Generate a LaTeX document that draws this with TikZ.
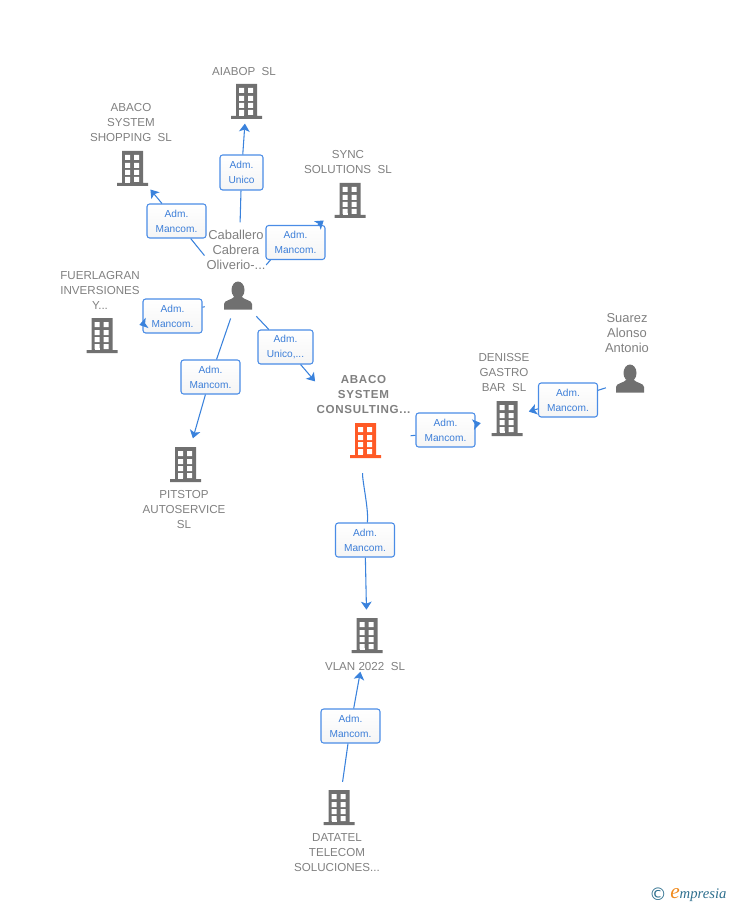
\documentclass[tikz,border=0pt]{standalone}
\usepackage{fontspec}
\setmainfont{Liberation Sans}
\newfontfamily\mainbold[LetterSpace=6]{Liberation Sans Bold}
\newfontfamily\logofont{Liberation Serif Italic}
\newfontfamily\signfont{DejaVu Sans}
\usetikzlibrary{arrows.meta}
\definecolor{wireblue}{HTML}{3A82DC}
\definecolor{labblue}{HTML}{4A8CE6}
\definecolor{labtext}{HTML}{3C7ED8}
\definecolor{nametext}{HTML}{808080}
\definecolor{iconkey}{HTML}{707070}
\definecolor{iconmain}{HTML}{FF5A26}
\definecolor{logoteal}{HTML}{2E6F8E}
\definecolor{logoorange}{HTML}{F08A1D}
\tikzset{
	wire/.style={line width=.8pt,color=wireblue},
	lab/.style={draw=labblue,line width=.8pt,rounded corners=2pt,top color=white,bottom color=black!4,
		text=labtext,font=\fontsize{7.6}{11.25}\selectfont,align=center,inner sep=0pt,
		minimum width=44.25pt,minimum height=25.5pt},
	nametag/.style={text=nametext,font=\fontsize{8.7}{11.25}\selectfont,align=center,inner sep=0pt},
	nameperson/.style={nametag,font=\fontsize{9.7}{11.25}\selectfont},
	bldg/.style={minimum width=24pt,minimum height=27pt,inner sep=0pt,path picture={
		\begin{scope}[shift={(path picture bounding box.center)}]
			\fill[#1] (-10.5,-17) rectangle (10.5,16) (-15.5,15) rectangle (15.5,18);
			\foreach \yy/\hh in {-13/5,-5/5,2/5,9/5}{
				\fill[white] (-7.5,\yy) rectangle +(5,\hh) (1.5,\yy) rectangle +(5,\hh);
			}
			\fill[white] (-7.5,13) rectangle (-2.5,15);
		\end{scope}}},
	bldg/.default=iconkey,
	person/.style={minimum width=24pt,minimum height=24pt,inner sep=0pt,path picture={
		\begin{scope}[shift={(path picture bounding box.center)}]
			\fill[iconkey] (0,-7) ellipse (6.5 and 8.5);
			\fill[iconkey] (-14,12.5) -- (-14,7) .. controls (-14,3) and (-6,3) .. (-4,0) -- (4,0)
				.. controls (6,3) and (14,3) .. (14,7) -- (14,12.5) -- cycle;
		\end{scope}}}
}
\begin{document}
\begin{tikzpicture}[x=.75pt,y=-.75pt,>={Stealth[length=6pt,width=8pt,inset=1.5pt]}]
	\useasboundingbox (0,0) rectangle (728,905);
	% icons
	\node[bldg] (aiabop) at (246.5,101) {};
	\node[bldg] (shopping) at (132.5,168) {};
	\node[bldg] (sync) at (350,200) {};
	\node[bldg] (fuerlagran) at (102,335) {};
	\node[bldg] (pitstop) at (185.5,464) {};
	\node[bldg=iconmain] (abaco) at (365.5,440) {};
	\node[bldg] (denisse) at (507,418) {};
	\node[bldg] (vlan) at (367,635) {};
	\node[bldg] (datatel) at (339,807) {};
	\node[person] (caballero) at (238,297) {};
	\node[person] (suarez) at (630,380) {};
	% names
	\node[nametag] (aiabopname) at (244,72) {AIABOP\ \ SL};
	\node[nametag] (shoppingname) at (131,123) {ABACO\\SYSTEM\\SHOPPING\ \ SL};
	\node[nametag] (syncname) at (348,162.5) {SYNC\\SOLUTIONS\ \ SL};
	\node[nameperson] (caballeroname) at (236,250) {Caballero\\Cabrera\\Oliverio-...};
	\node[nametag] (fuerlagranname) at (100,290) {FUERLAGRAN\\INVERSIONES\\Y...};
	\node[nametag] (denissename) at (504,373) {DENISSE\\GASTRO\\BAR\ \ SL};
	\node[nameperson] (suarezname) at (627,333) {Suarez\\Alonso\\Antonio};
	\node[nametag] (pitstopname) at (184,510) {PITSTOP\\AUTOSERVICE\\SL};
	\node[nametag,font=\fontsize{8.7}{11.25}\mainbold] (abaconame) at (363.5,395) {ABACO\\SYSTEM\\CONSULTING...};
	\node[nametag] (vlanname) at (365,666) {VLAN 2022\ \ SL};
	\node[nametag] (datatelname) at (337,853) {DATATEL\\TELECOM\\SOLUCIONES...};
	% labels
	\node[lab,minimum width=32.25pt,minimum height=26.25pt] (labaiabop) at (241.5,172.5) {Adm.\\Unico};
	\node[lab] (labshopping) at (176.5,221) {Adm.\\Mancom.};
	\node[lab] (labsync) at (295.5,242.5) {Adm.\\Mancom.};
	\node[lab] (labfuerlagran) at (172.5,316) {Adm.\\Mancom.};
	\node[lab] (labpitstop) at (210.5,377) {Adm.\\Mancom.};
	\node[lab,minimum width=41.25pt] (lababaco) at (285.5,347) {Adm.\\Unico,...};
	\node[lab] (labdenisse) at (445.5,430) {Adm.\\Mancom.};
	\node[lab] (labsuarez) at (568,400) {Adm.\\Mancom.};
	\node[lab] (labvlan) at (365,540) {Adm.\\Mancom.};
	\node[lab] (labdatatel) at (350.5,726) {Adm.\\Mancom.};
	% connectors
	\draw[wire,shorten <=56pt] (caballero.center) -- (labaiabop);
	\draw[wire,->,shorten >=17pt] (labaiabop) -- (aiabop.center);
	\draw[wire,shorten <=40pt] (caballero.center) -- (labshopping);
	\draw[wire,->,shorten >=21pt] (labshopping) -- (shopping.center);
	\draw[wire,shorten <=32pt] (caballero.center) -- (labsync.-145);
	\draw[wire,->,shorten >=25pt] (labsync) -- (sync.center);
	\draw[wire,shorten <=26pt] (caballero.center) -- (labfuerlagran);
	\draw[wire,->,shorten >=29pt] (labfuerlagran) -- (fuerlagran.center);
	\draw[wire,shorten <=17pt] (caballero.center) -- (labpitstop);
	\draw[wire,->,shorten >=20pt] (labpitstop) -- (pitstop.center);
	\draw[wire,shorten <=20pt] (caballero.center) -- (lababaco);
	\draw[wire,->,shorten >=58pt] (lababaco) -- (abaco.center);
	\draw[wire,shorten <=34pt] (abaco.center) -- (labdenisse.-170);
	\draw[wire,->,shorten >=20pt] (labdenisse) -- (denisse.center);
	\draw[wire,shorten <=19pt] (suarez.center) -- (labsuarez);
	\draw[wire,->,shorten >=17pt] (labsuarez) -- (denisse.center);
	\draw[wire,shorten <=25pt] (abaco.center) .. controls (362,480) and (369,510) .. (labvlan);
	\draw[wire,->,shorten >=19pt] (labvlan) -- (vlan.center);
	\draw[wire,shorten <=19pt] (datatel.center) -- (labdatatel);
	\draw[wire,->,shorten >=28pt] (labdatatel) -- (vlan.center);
	% logo
	\node[text=logoteal,inner sep=0pt,font=\fontsize{13}{13}\signfont] (logosign) at (658,894) {©};
	\node[anchor=west,inner sep=0pt,text=logoteal,font=\fontsize{11}{11}\logofont] (logoname) at (670,895) {{\color{logoorange}\fontsize{16}{11}\selectfont e}mpresia};
\end{tikzpicture}
\end{document}
